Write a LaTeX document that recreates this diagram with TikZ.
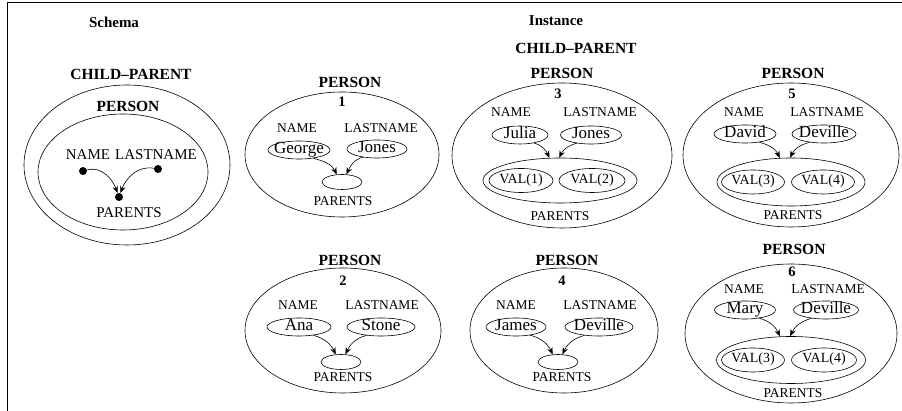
\documentclass[tikz,border=0pt]{standalone}
\usepackage{fontspec}
\setmainfont{Liberation Serif}
\usepackage{tikz}
\usetikzlibrary{arrows.meta,shapes.geometric}
\tikzset{
  ell/.style={draw,ellipse,line width=0.6pt,inner sep=0pt},
  valbox/.style={ell,minimum height=18,inner xsep=-16pt,inner ysep=-6pt,
    text height=11pt,text depth=3pt,font=\fontsize{17}{17}\selectfont},
  setbox/.style={ell,minimum height=24,inner xsep=-12pt,inner ysep=-5pt,
    text height=9pt,text depth=3pt,font=\fontsize{14}{14}\selectfont},
  parbox/.style={ell,minimum width=40,minimum height=15},
  headtext/.style={font=\bfseries\fontsize{15}{16}\selectfont},
  titletext/.style={font=\bfseries\fontsize{15.5}{16}\selectfont},
  numtext/.style={font=\bfseries\fontsize{14.5}{15}\selectfont},
  attrtext/.style={font=\fontsize{13.5}{14}\selectfont},
  schtext/.style={font=\fontsize{15}{16}\selectfont},
  dot/.style={circle,fill,inner sep=0pt,minimum size=8pt},
  arr/.style={-{Stealth[length=7pt,width=5.5pt]},line width=0.6pt},
}

\begin{document}
\begin{tikzpicture}[x=1pt,y=1pt]
    \useasboundingbox (0,0) rectangle (902,411);
    \draw[line width=0.8pt] (7,0) -- (7,409) -- (902,409);

    \node[headtext] (schema) at (114,389) {Schema};
    \node[headtext] (instance) at (556,390) {Instance};
    \node[titletext] (cps) at (131,337) {CHILD--PARENT};
    \node[titletext] (cpi) at (576,363) {CHILD--PARENT};

    \node[ell,minimum width=206,minimum height=160] (so) at (127,246) {};
    \node[titletext] (ps) at (128,305) {PERSON};
    \node[ell,minimum width=170,minimum height=116] (si) at (123,239) {};
    \node[schtext] (sn) at (88,256) {NAME};
    \node[schtext] (sl) at (156,256) {LASTNAME};
    \node[dot] (sname) at (83,240) {};
    \node[dot] (slast) at (158,242) {};
    \node[dot] (spar) at (119,214) {};
    \node[schtext] (sr) at (129,198) {PARENTS};
    \draw[arr] (sname) to[out=15,in=110] (spar);
    \draw[arr] (slast) to[out=170,in=70] (spar);

    \node[titletext] (t1) at (350,329) {PERSON};
    \node[numtext] (n1) at (342,309) {1};
    \node[ell,minimum width=194,minimum height=125] (e1) at (342,256.5) {};
    \node[attrtext] (a1) at (297,283) {NAME};
    \node[attrtext] (b1) at (381,283) {LASTNAME};
    \node[valbox,minimum width=62] (g1) at (299,261) {George};
    \node[valbox,minimum width=60] (j1) at (377,262) {Jones};
    \node[parbox] (p1) at (342,229) {};
    \node[attrtext] (r1) at (343,210) {PARENTS};
    \draw[arr] (g1.-30) to[out=-15,in=115] (p1.125);
    \draw[arr] (j1.-150) to[out=195,in=65] (p1.60);

    \node[titletext] (t2) at (350,151) {PERSON};
    \node[numtext] (n2) at (343,130) {2};
    \node[ell,minimum width=196,minimum height=125] (e2) at (343,80.5) {};
    \node[attrtext] (a2) at (298,106) {NAME};
    \node[attrtext] (b2) at (382,106) {LASTNAME};
    \node[valbox,minimum width=64] (g2) at (299,84) {Ana};
    \node[valbox,minimum width=68] (j2) at (381,84) {Stone};
    \node[parbox] (p2) at (341,49) {};
    \node[attrtext] (r2) at (343,34) {PARENTS};
    \draw[arr] (g2.-30) to[out=-15,in=115] (p2.125);
    \draw[arr] (j2.-150) to[out=195,in=65] (p2.60);

    \node[titletext] (t3) at (562,338) {PERSON};
    \node[numtext] (n3) at (558,317) {3};
    \node[ell,minimum width=220,minimum height=145] (e3) at (562,255.5) {};
    \node[attrtext] (a3) at (511,299) {NAME};
    \node[attrtext] (b3) at (600,299) {LASTNAME};
    \node[valbox,minimum width=56] (g3) at (520,276) {Julia};
    \node[valbox,minimum width=61] (j3) at (591,276) {Jones};
    \node[ell,minimum width=154,minimum height=45] (p3) at (560,230.5) {};
    \node[setbox,minimum width=64] (v31) at (521,230.5) {VAL(1)};
    \node[setbox,minimum width=66] (v32) at (592,230.5) {VAL(2)};
    \node[attrtext] (r3) at (560,195) {PARENTS};
    \draw[arr] (g3.-30) to[out=-15,in=115] (p3.115);
    \draw[arr] (j3.-150) to[out=195,in=65] (p3.92);

    \node[titletext] (t4) at (567,151) {PERSON};
    \node[numtext] (n4) at (562,130) {4};
    \node[ell,minimum width=188,minimum height=125] (e4) at (564,80.5) {};
    \node[attrtext] (a4) at (516,106) {NAME};
    \node[attrtext] (b4) at (600,106) {LASTNAME};
    \node[valbox,minimum width=60] (g4) at (516,84) {James};
    \node[valbox,minimum width=68] (j4) at (599,84) {Deville};
    \node[parbox] (p4) at (558,49) {};
    \node[attrtext] (r4) at (562,34) {PARENTS};
    \draw[arr] (g4.-30) to[out=-15,in=115] (p4.125);
    \draw[arr] (j4.-150) to[out=195,in=65] (p4.60);

    \node[titletext] (t5) at (793,338) {PERSON};
    \node[numtext] (n5) at (792,317) {5};
    \node[ell,minimum width=216,minimum height=144] (e5) at (791,256) {};
    \node[attrtext] (a5) at (744,299) {NAME};
    \node[attrtext] (b5) at (827,299) {LASTNAME};
    \node[valbox,minimum width=62] (g5) at (745,277) {David};
    \node[valbox,minimum width=64] (j5) at (824,277) {Deville};
    \node[ell,minimum width=148,minimum height=48] (p5) at (791,229) {};
    \node[setbox,minimum width=63] (v51) at (753,229) {VAL(3)};
    \node[setbox,minimum width=63] (v52) at (823,229) {VAL(4)};
    \node[attrtext] (r5) at (793,196) {PARENTS};
    \draw[arr] (g5.-30) to[out=-15,in=115] (p5.115);
    \draw[arr] (j5.-150) to[out=195,in=65] (p5.92);

    \node[titletext] (t6) at (794,162) {PERSON};
    \node[numtext] (n6) at (792,139) {6};
    \node[ell,minimum width=212,minimum height=139] (e6) at (791,77.5) {};
    \node[attrtext] (a6) at (744,122) {NAME};
    \node[attrtext] (b6) at (828,122) {LASTNAME};
    \node[valbox,minimum width=61] (g6) at (745,101) {Mary};
    \node[valbox,minimum width=65] (j6) at (826,101) {Deville};
    \node[ell,minimum width=149,minimum height=47] (p6) at (791,51) {};
    \node[setbox,minimum width=63] (v61) at (753,51) {VAL(3)};
    \node[setbox,minimum width=65] (v62) at (824,51) {VAL(4)};
    \node[attrtext] (r6) at (793,18) {PARENTS};
    \draw[arr] (g6.-30) to[out=-15,in=115] (p6.115);
    \draw[arr] (j6.-150) to[out=195,in=65] (p6.92);
\end{tikzpicture}
\end{document}
